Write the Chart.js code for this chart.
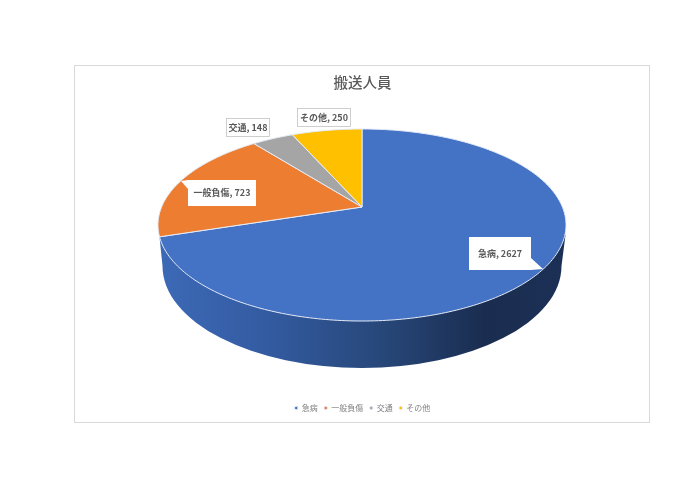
<!DOCTYPE html>
<html>
<head>
<meta charset="utf-8">
<script src="https://cdn.jsdelivr.net/npm/chart.js@4"></script>
<style>
  html, body { margin: 0; padding: 0; background: #fff; }
  #frame { position: absolute; left: 74px; top: 65px; width: 574px; height: 356px; border: 1px solid #d9d9d9; }
</style>
</head>
<body>
<div id="frame"><canvas id="chart"></canvas></div>
<script>
const categories = ['急病', '一般負傷', '交通', 'その他'];
const values = [2627, 723, 148, 250];
const colors = ['#4472C4', '#ED7D31', '#A5A5A5', '#FFC000'];

// callout boxes, in canvas pixels: x, y, w, h and the tail polygon
const callouts = [
  { box: [394, 171, 62, 33], tail: [[456, 192], [468, 203], [456, 204]] },
  { box: [113, 114, 68, 26], tail: [[113, 114], [106, 115], [113, 123]] },
  { box: [151, 52, 44, 19], border: true, tail: [[186, 71], [194, 73], [193, 71]] },
  { box: [222, 42, 54, 19], border: true, tail: [[248, 61], [253, 63], [256, 61]] }
];

// top face of the tilted pie: projective map of the unit circle
const top3d = { cx: 287, a: 200.4, b: 66.2, c: 141, k: -0.1875 };
// lower rim of the side wall
const rim = { cx: 287, cy: 200, rx: 199.5, ry: 102 };

function project(angle) {
  const x = Math.cos(angle), y = Math.sin(angle);
  const w = 1 + top3d.k * y;
  return [top3d.cx + top3d.a * x / w, (top3d.b * y + top3d.c) / w];
}

function drawWall(ctx) {
  const grad = ctx.createLinearGradient(84, 0, 491, 0);
  grad.addColorStop(0, '#3C69B6');
  grad.addColorStop(0.25, '#345CA3');
  grad.addColorStop(0.55, '#274779');
  grad.addColorStop(0.8, '#1A2D50');
  grad.addColorStop(1, '#1C3056');
  ctx.beginPath();
  ctx.moveTo(84.5, 171);
  ctx.lineTo(rim.cx - rim.rx, rim.cy);
  ctx.ellipse(rim.cx, rim.cy, rim.rx, rim.ry, 0, Math.PI, 0, true);
  ctx.lineTo(490.5, 169);
  ctx.closePath();
  ctx.fillStyle = grad;
  ctx.fill();
}

// the pie keeps its angles from the controller, only the outline is tilted
Chart.ArcElement.prototype.draw = function (ctx) {
  const o = this.options;
  const start = this.startAngle, end = this.endAngle;
  if (start <= Math.PI / 2 && end >= Math.PI / 2) drawWall(ctx);
  ctx.save();
  ctx.beginPath();
  ctx.moveTo(top3d.cx, top3d.c);
  const steps = Math.ceil((end - start) * 60);
  for (let i = 0; i <= steps; i++) {
    const p = project(start + (end - start) * i / steps);
    ctx.lineTo(p[0], p[1]);
  }
  ctx.closePath();
  ctx.fillStyle = o.backgroundColor;
  ctx.fill();
  ctx.strokeStyle = o.borderColor;
  ctx.lineWidth = o.borderWidth;
  ctx.lineJoin = 'round';
  ctx.stroke();
  ctx.restore();
};

const calloutPlugin = {
  id: 'callouts',
  afterDatasetsDraw(chart) {
    const ctx = chart.ctx;
    ctx.save();
    ctx.font = 'bold 9px "Noto Sans CJK JP"';
    ctx.textAlign = 'center';
    ctx.textBaseline = 'middle';
    callouts.forEach((c, i) => {
      const [x, y, w, h] = c.box;
      ctx.fillStyle = '#fff';
      ctx.beginPath();
      ctx.rect(x, y, w, h);
      ctx.moveTo(c.tail[0][0], c.tail[0][1]);
      ctx.lineTo(c.tail[1][0], c.tail[1][1]);
      ctx.lineTo(c.tail[2][0], c.tail[2][1]);
      ctx.closePath();
      ctx.fill();
      if (c.border) {
        ctx.strokeStyle = '#bfbfbf';
        ctx.lineWidth = 0.75;
        ctx.strokeRect(x + 0.5, y + 0.5, w - 1, h - 1);
      }
      ctx.fillStyle = '#595959';
      ctx.fillText(categories[i] + ', ' + values[i], x + w / 2, y + h / 2);
    });
    ctx.restore();
  }
};

Chart.defaults.font.family = '"Noto Sans CJK JP", "Noto Sans", sans-serif';

new Chart(document.getElementById('chart'), {
  type: 'pie',
  data: {
    labels: categories,
    datasets: [{
      data: values,
      backgroundColor: colors,
      borderColor: '#e4ebf7',
      borderWidth: 1
    }]
  },
  options: {
    responsive: true,
    maintainAspectRatio: false,
    animation: false,
    layout: { padding: { left: 1 } },
    plugins: {
      tooltip: { enabled: false },
      title: {
        display: true,
        text: '搬送人員',
        color: '#595959',
        font: { size: 14.5, weight: '500' },
        padding: { top: 8, bottom: 8 }
      },
      legend: {
        position: 'bottom',
        labels: {
          usePointStyle: true,
          boxWidth: 3,
          boxHeight: 2.5,
          padding: 6.5,
          color: '#7f7f7f',
          font: { size: 8 }
        }
      }
    }
  },
  plugins: [calloutPlugin]
});
</script>
</body>
</html>
